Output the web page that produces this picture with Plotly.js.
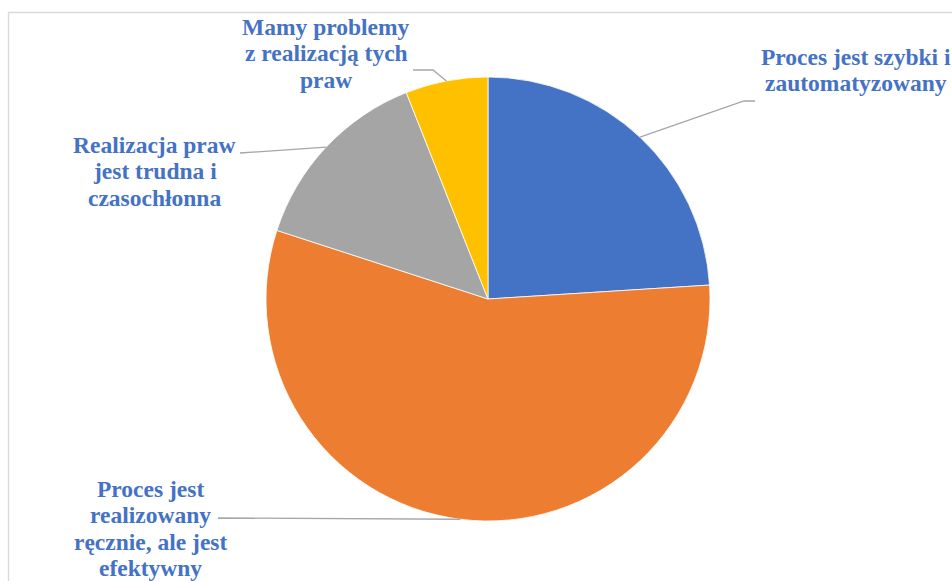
<!DOCTYPE html>
<html>
<head>
<meta charset="utf-8">
<script src="https://cdn.plot.ly/plotly-3.0.1.min.js"></script>
<style>html,body{margin:0;padding:0;background:#fff;}#chart{width:952px;height:581px;}</style>
</head>
<body>
<div id="chart"></div>
<script>
// ---- data ----
var categories = [
  "Proces jest szybki i<br>zautomatyzowany",
  "Proces jest<br>realizowany<br>ręcznie, ale jest<br>efektywny",
  "Realizacja praw<br>jest trudna i<br>czasochłonna",
  "Mamy problemy<br>z realizacją tych<br>praw"
];
var values = [24, 56, 14, 6];
var colors = ["#4472C4", "#ED7D31", "#A5A5A5", "#FFC000"];

// ---- layout constants (pixels) ----
var W = 952, H = 581;
var CX = 488, CY = 299, R = 222;
// label centre x and first-line centre y; line spacing
var labelPos = [[856, 57], [150.5, 489], [154.5, 145], [326, 27]];
var LINE_GAP = 26.3;
var FONT_SIZE = 23.5;
// leader-line elbows/ends
var elbows = [[[744, 101], [755, 101]], [[218, 518]], [[240, 153]], [[433, 70], [413, 70]]];

function px(x) { return x / W; }
function py(y) { return 1 - y / H; }

var total = values.reduce(function (a, b) { return a + b; }, 0);
var shapes = [{
  type: 'rect', xref: 'paper', yref: 'paper',
  x0: px(8.5), x1: 1.05, y0: -0.05, y1: py(12.5),
  line: { color: '#D9D9D9', width: 1.3 }, fillcolor: 'rgba(0,0,0,0)', layer: 'below'
}];
var annotations = [];
var cum = 0;
for (var i = 0; i < values.length; i++) {
  var mid = (cum + values[i] / 2) / total * 2 * Math.PI;
  cum += values[i];
  var sx = CX + R * Math.sin(mid), sy = CY - R * Math.cos(mid);
  var path = 'M ' + px(sx) + ',' + py(sy);
  elbows[i].forEach(function (p) { path += ' L ' + px(p[0]) + ',' + py(p[1]); });
  shapes.push({ type: 'path', xref: 'paper', yref: 'paper', path: path,
    line: { color: '#A6A6A6', width: 1.3 } });
  var lines = categories[i].split('<br>');
  lines.forEach(function (ln, k) {
    annotations.push({
      xref: 'paper', yref: 'paper',
      x: px(labelPos[i][0]), y: py(labelPos[i][1] + k * LINE_GAP),
      xanchor: 'center', yanchor: 'middle', showarrow: false, align: 'center',
      text: '<b>' + ln + '</b>',
      font: { family: 'Liberation Serif, Times New Roman, serif', size: FONT_SIZE, color: '#4472C4' }
    });
  });
}

var trace = {
  type: 'pie',
  labels: categories,
  values: values,
  sort: false,
  direction: 'clockwise',
  rotation: 0,
  textinfo: 'none',
  hoverinfo: 'none',
  marker: { colors: colors, line: { color: '#ffffff', width: 0.8 } },
  domain: { x: [px(CX - R), px(CX + R)], y: [py(CY + R), py(CY - R)] },
  showlegend: false
};

var layout = {
  width: W, height: H,
  margin: { l: 0, r: 0, t: 0, b: 0 },
  paper_bgcolor: '#ffffff',
  showlegend: false,
  shapes: shapes,
  annotations: annotations
};

Plotly.newPlot('chart', [trace], layout, { displayModeBar: false, staticPlot: true });
</script>
</body>
</html>
